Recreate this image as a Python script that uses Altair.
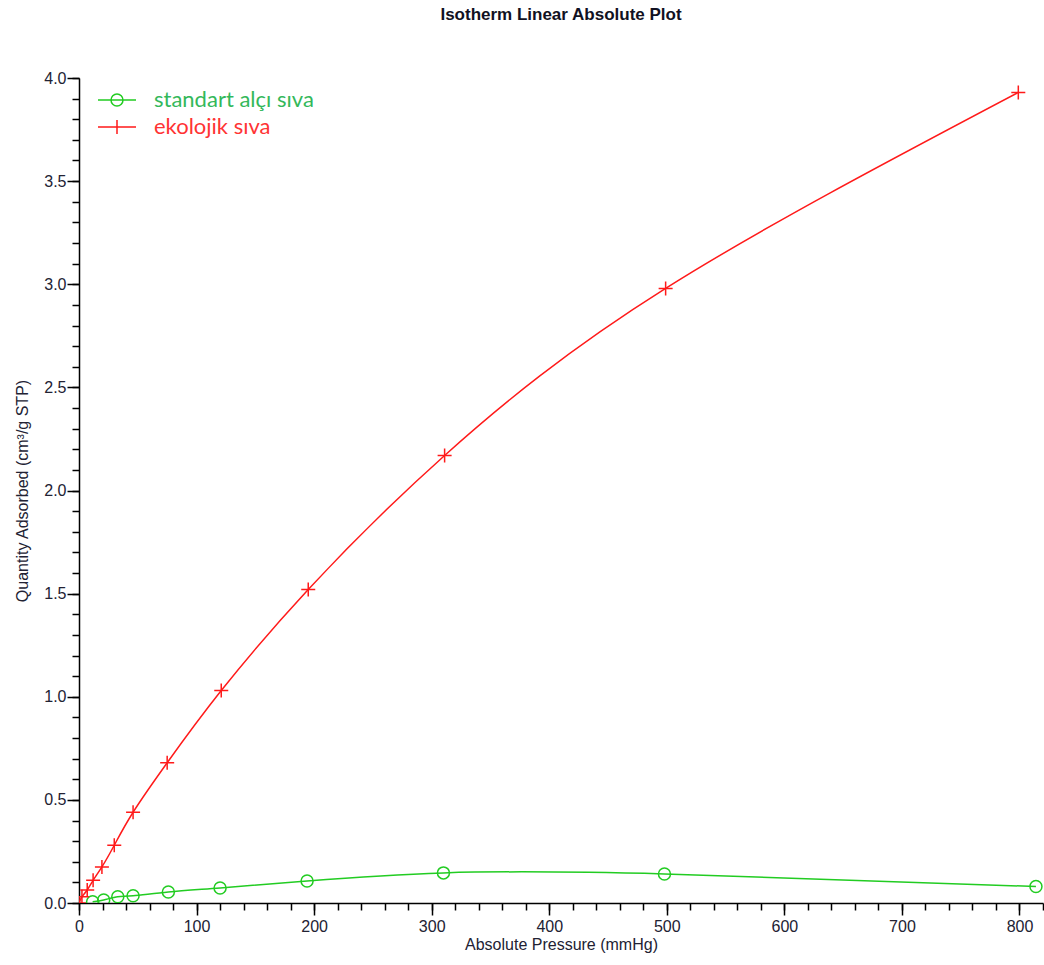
import altair as alt
import pandas as pd

# Isotherm measurements: absolute pressure (mmHg) vs quantity adsorbed (cm³/g STP)
series_names = ["standart alçı sıva", "ekolojik sıva"]

p_standart = [11.6, 21, 33, 46, 76, 120, 194, 310, 498, 814]
q_standart = [0.006, 0.015, 0.03, 0.035, 0.053, 0.073, 0.107, 0.146, 0.141, 0.08]

p_ekolojik = [0, 2.5, 7, 12, 19.5, 30, 46, 75, 121, 195, 311, 499, 799]
q_ekolojik = [0.0, 0.03, 0.063, 0.11, 0.175, 0.28, 0.44, 0.68, 1.03, 1.52, 2.17, 2.98, 3.93]

x_major = [0, 100, 200, 300, 400, 500, 600, 700, 800]
x_minor = list(range(0, 821, 20))
y_major = [0.0, 0.5, 1.0, 1.5, 2.0, 2.5, 3.0, 3.5, 4.0]
y_minor = [round(i * 0.1, 1) for i in range(0, 41)]

line_colors = ["#22cc22", "#ff1a1a"]
text_colors = ["#33b85a", "#ff3333"]

df = pd.concat([
    pd.DataFrame({"p": p_standart, "q": q_standart, "series": series_names[0]}),
    pd.DataFrame({"p": p_ekolojik, "q": q_ekolojik, "series": series_names[1]}),
])

x_scale = alt.Scale(domain=[0, 820], nice=False, zero=False)
y_scale = alt.Scale(domain=[0, 4.0], nice=False)
color_scale = alt.Scale(domain=series_names, range=line_colors)

circle_legend = "M-1.9,0L1.9,0M-0.6,0A0.6,0.6,0,1,1,0.6,0A0.6,0.6,0,1,1,-0.6,0"
plus_legend = "M-1.9,0L1.9,0M0,-0.7L0,0.7"

legend = alt.Legend(
    title=None,
    orient="none",
    legendX=27,
    legendY=11,
    symbolType=alt.ExprRef(
        expr=f"datum.value == '{series_names[0]}' ? '{circle_legend}' : '{plus_legend}'"
    ),
    symbolSize=400,
    symbolStrokeWidth=1.5,
    symbolFillColor="transparent",
    labelColor=alt.ExprRef(
        expr=f"datum.value == '{series_names[0]}' ? '{text_colors[0]}' : '{text_colors[1]}'"
    ),
    labelFont="Lato",
    labelFontSize=22,
    labelOffset=26,
    rowPadding=5,
)

axis_common = dict(
    domainColor="black",
    domainWidth=1.5,
    tickColor="black",
    tickWidth=1.5,
    grid=False,
    labelFont="Liberation Sans",
    labelFontSize=16,
    labelColor="#222233",
    titleFont="Liberation Sans",
    titleFontSize=16,
    titleFontWeight="normal",
    titleColor="#222233",
)

base = alt.Chart(df)

# Smooth curves through the measured points, with the labelled major-tick axes
lines = base.mark_line(interpolate="natural", strokeWidth=1.5, clip=True).encode(
    x=alt.X("p:Q", scale=x_scale,
            axis=alt.Axis(values=x_major, orient="bottom", title="Absolute Pressure (mmHg)",
                          format="d", tickSize=12, labelPadding=3, titlePadding=2,
                          labelFlush=False, **axis_common)),
    y=alt.Y("q:Q", scale=y_scale,
            axis=alt.Axis(values=y_major, orient="left", title="Quantity Adsorbed (cm³/g STP)",
                          format=".1f", tickSize=12, labelPadding=1, titlePadding=13,
                          labelFlush=False, **axis_common)),
    color=alt.Color("series:N", scale=color_scale, legend=legend),
    detail="series:N",
)

# Markers, carrying the unlabelled minor-tick axes
minor_x = alt.Axis(values=x_minor, orient="bottom", labels=False, title=None,
                   domain=False, tickSize=7, tickColor="black", tickWidth=1.5, grid=False)
minor_y = alt.Axis(values=y_minor, orient="left", labels=False, title=None,
                   domain=False, tickSize=7, tickColor="black", tickWidth=1.5, grid=False)

circles = base.transform_filter(alt.datum.series == series_names[0]).mark_point(
    shape="circle", size=144, filled=False, strokeWidth=1.5, clip=True, opacity=1
).encode(
    x=alt.X("p:Q", scale=x_scale, axis=minor_x),
    y=alt.Y("q:Q", scale=y_scale, axis=minor_y),
    color=alt.Color("series:N", scale=color_scale, legend=None),
)

pluses = base.transform_filter(alt.datum.series == series_names[1]).mark_point(
    shape="M-1,0L1,0M0,-1L0,1", size=196, filled=False, strokeWidth=1.5, clip=True, opacity=1
).encode(
    x=alt.X("p:Q", scale=x_scale, axis=None),
    y=alt.Y("q:Q", scale=y_scale, axis=None),
    color=alt.Color("series:N", scale=color_scale, legend=None),
)

chart = (
    alt.layer(lines, circles, pluses)
    .resolve_axis(x="independent", y="independent")
    .properties(
        width=964,
        height=825,
        autosize=alt.AutoSizeParams(type="none"),
        padding={"left": 79, "top": 78, "right": 1, "bottom": 62},
        title=alt.Title("Isotherm Linear Absolute Plot", font="Liberation Sans",
                        fontSize=17, fontWeight="bold", color="#111122",
                        anchor="middle", offset=46),
        background="white",
    )
    .configure_view(stroke=None)
)

chart.save("out.html", embed_options={"renderer": "svg", "actions": False})
